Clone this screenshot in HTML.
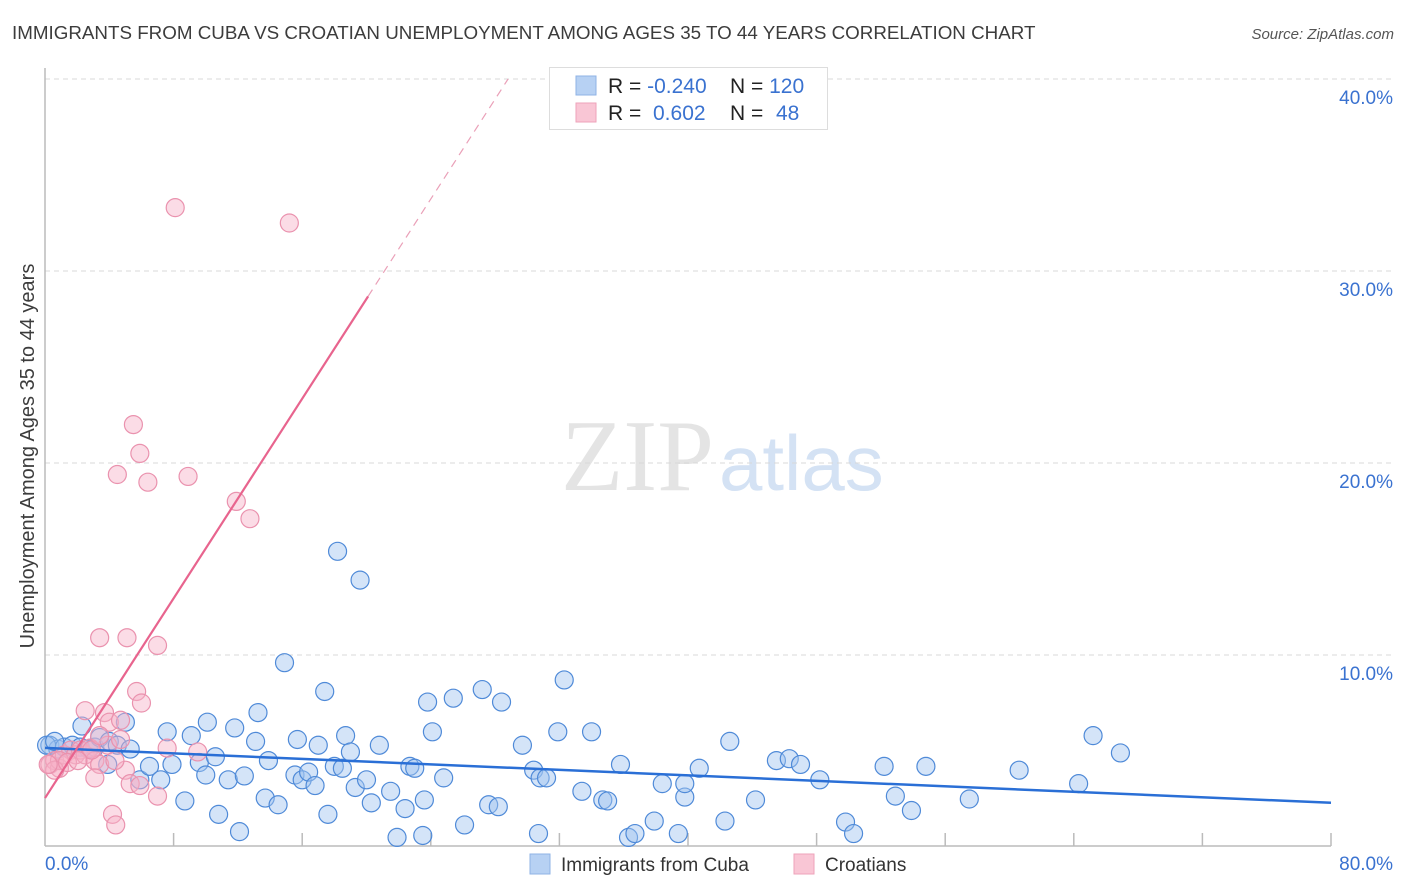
<!DOCTYPE html>
<html><head><meta charset="utf-8"><style>
body{margin:0;background:#fff;font-family:"Liberation Sans",sans-serif;}
#wrap{position:relative;width:1406px;height:892px;overflow:hidden;}
</style></head><body>
<div id="wrap">
<svg id="chart" width="1406" height="892" xmlns="http://www.w3.org/2000/svg">
<text x="12" y="39" font-size="18.8" fill="#3c3c3c">IMMIGRANTS FROM CUBA VS CROATIAN UNEMPLOYMENT AMONG AGES 35 TO 44 YEARS CORRELATION CHART</text>
<text x="1394" y="39" font-size="15" font-style="italic" fill="#555" text-anchor="end">Source: ZipAtlas.com</text>
<text x="714" y="490" font-size="102" font-family="Liberation Serif" fill="#e4e4e4" text-anchor="end">ZIP</text>
<text x="719" y="490" font-size="78" fill="#d4e2f4">atlas</text>
<g id="grid"></g>
<line x1="45" y1="68" x2="45" y2="846" stroke="#bbb" stroke-width="1.5"/>
<line x1="45" y1="846" x2="1331" y2="846" stroke="#bbb" stroke-width="1.5"/>
<g id="ticks"></g>
<text x="27" y="456" font-size="20" fill="#3c3c3c" text-anchor="middle" transform="rotate(-90 27 456)" dy="7">Unemployment Among Ages 35 to 44 years</text>
<g id="pts"></g>
<g id="lines"></g>
<g>
<rect x="549.5" y="67.5" width="278" height="62" fill="#fff" stroke="#ddd"/>
<rect x="576" y="76" width="20" height="19" fill="#b7d1f3" stroke="#8fb3e6"/>
<rect x="576" y="103" width="20" height="19" fill="#f9c6d5" stroke="#eea3ba"/>
<text x="608" y="93" font-size="21" fill="#222">R = <tspan fill="#3a72d0">-0.240</tspan></text>
<text x="730" y="93" font-size="21" fill="#222">N = <tspan fill="#3a72d0">120</tspan></text>
<text x="608" y="120" font-size="21" fill="#222">R = <tspan fill="#3a72d0" x="653">0.602</tspan></text>
<text x="730" y="120" font-size="21" fill="#222">N = <tspan fill="#3a72d0" x="776">48</tspan></text>
</g>
<g>
<rect x="530" y="854" width="20" height="20" fill="#b7d1f3" stroke="#8fb3e6"/>
<text x="561" y="871" font-size="19" fill="#333">Immigrants from Cuba</text>
<rect x="794" y="854" width="20" height="20" fill="#f9c6d5" stroke="#eea3ba"/>
<text x="825" y="871" font-size="19" fill="#333">Croatians</text>
</g>
</svg>
</div>
<script>
const xTicks=[0,8,16,24,32,40,48,56,64,72,80];
const yTicks=[10,20,30,40];
const cubaX=[0.3,0.8,1.2,1.7,2.2,2.7,3.1,2.3,3.4,4.0,4.5,5.0,5.3,3.9,5.9,6.5,7.2,7.6,7.9,8.7,9.1,9.6,10.0,10.1,10.6,10.8,11.4,11.8,12.1,12.4,13.1,13.25,13.7,13.9,14.5,14.9,15.55,15.7,16.0,16.4,16.8,17.0,17.4,17.6,18.0,18.2,18.5,18.7,19.0,19.3,19.6,20.0,20.3,20.8,21.5,21.9,22.4,22.7,23.0,23.5,23.6,23.8,24.1,24.8,25.4,26.1,27.2,27.6,28.2,28.4,29.7,30.4,30.7,30.8,31.2,31.9,32.3,33.4,34.0,34.7,35.0,35.8,36.3,36.7,37.9,38.4,39.4,39.8,39.8,40.7,42.3,42.6,44.2,45.5,46.3,47.0,48.2,49.8,50.3,52.2,52.9,53.9,54.8,57.5,60.6,64.3,65.2,66.9,0.1,0.6];
const cubaY=[5.3,5.1,5.2,5.3,5.2,5.1,5.2,6.3,5.7,5.5,5.3,6.5,5.1,4.3,3.5,4.2,3.5,6.0,4.3,2.4,5.8,4.4,3.75,6.5,4.7,1.7,3.5,6.2,0.8,3.7,5.5,7.0,2.55,4.5,2.2,9.6,3.75,5.6,3.5,3.9,3.2,5.3,8.1,1.7,4.2,15.4,4.1,5.8,4.95,3.1,13.9,3.5,2.3,5.3,2.9,0.5,2.0,4.2,4.1,0.6,2.45,7.55,6.0,3.6,7.75,1.15,8.2,2.2,2.1,7.55,5.3,4.0,0.7,3.6,3.6,6.0,8.7,2.9,6.0,2.45,2.4,4.3,0.5,0.7,1.35,3.3,0.7,2.6,3.3,4.1,1.35,5.5,2.45,4.5,4.6,4.3,3.5,1.3,0.7,4.2,2.65,1.9,4.2,2.5,4.0,3.3,5.8,4.9,5.3,5.5];
const croX=[0.3,0.6,0.9,1.2,1.6,1.9,2.2,2.5,2.8,3.1,3.4,2.5,3.1,3.4,3.7,4.0,4.2,4.4,4.5,4.7,5.0,5.1,5.3,5.5,5.7,5.9,6.0,6.4,7.0,7.0,7.6,8.1,8.9,9.5,11.9,12.75,15.2,0.9,0.6,0.2,3.9,4.35,2.9,1.4,2.05,4.7,5.9,3.4];
const croY=[4.3,4.5,4.1,4.8,5.05,4.8,5.05,4.8,5.15,4.5,4.3,7.1,3.6,10.9,7.0,6.5,1.7,1.15,19.4,6.6,4.0,10.9,3.3,22.0,8.1,20.5,7.5,19.0,10.5,2.65,5.15,33.3,19.3,4.95,18.0,17.1,32.5,4.5,4.0,4.3,5.3,4.5,5.05,4.4,4.5,5.6,3.2,5.8];
const cubaTrend=[5.16,-0.0357];
const croTrend=[2.55,1.30];
const croSolidEnd=20.1;

const NS="http://www.w3.org/2000/svg";
const X0=45,X1=1331,Y0=847,PXY=19.2;
const sx=v=>X0+v/80*(X1-X0);
const sy=v=>Y0-v*PXY;
function mk(tag,attrs,parent){const e=document.createElementNS(NS,tag);for(const k in attrs)e.setAttribute(k,attrs[k]);parent.appendChild(e);return e;}
const grid=document.getElementById('grid'),ticks=document.getElementById('ticks'),pts=document.getElementById('pts'),lines=document.getElementById('lines');
yTicks.forEach(t=>{
 const l=mk('line',{x1:45,x2:1393,y1:sy(t),y2:sy(t),stroke:'#d8d8d8','stroke-dasharray':'5,4'},grid);
 
 
 const tx=mk('text',{x:1393,y:sy(t)+25,'font-size':19,fill:'#3a72d0','text-anchor':'end'},ticks);
 tx.textContent=t.toFixed(1)+'%';
 
 
});
xTicks.forEach(t=>{
 if(t>0){const l=mk('line',{x1:sx(t),x2:sx(t),y1:833,y2:846,stroke:'#bbb','stroke-width':1.5},ticks);
 
 }
});
[[0,'start',45],[80,'end',1393]].forEach(([t,a,x])=>{
 const tx=mk('text',{x:x,y:870,'font-size':19,fill:'#3a72d0','text-anchor':a},ticks);
 tx.textContent=t.toFixed(1)+'%';
 
 
});
cubaX.forEach((v,i)=>{
 const c=mk('circle',{cx:sx(v),cy:sy(cubaY[i]),r:9,fill:'rgba(160,196,240,0.45)',stroke:'#4f8ad8','stroke-width':1.2},pts);
 
 
});
croX.forEach((v,i)=>{
 const c=mk('circle',{cx:sx(v),cy:sy(croY[i]),r:9,fill:'rgba(247,178,200,0.45)',stroke:'#ea92ae','stroke-width':1.2},pts);
 
 
});
const bl=mk('line',{x1:sx(0),y1:sy(cubaTrend[0]),x2:sx(80),y2:sy(cubaTrend[0]+cubaTrend[1]*80),stroke:'#2a6fd6','stroke-width':2.5},lines);


const pl=mk('line',{x1:sx(0),y1:sy(croTrend[0]),x2:sx(croSolidEnd),y2:sy(croTrend[0]+croTrend[1]*croSolidEnd),stroke:'#e8648e','stroke-width':2.2},lines);


const xe=(40-croTrend[0])/croTrend[1];
const pd=mk('line',{x1:sx(croSolidEnd),y1:sy(croTrend[0]+croTrend[1]*croSolidEnd),x2:sx(xe),y2:sy(40),stroke:'#eaa0b8','stroke-width':1.2,'stroke-dasharray':'8,6'},lines);


</script>
</body></html>
